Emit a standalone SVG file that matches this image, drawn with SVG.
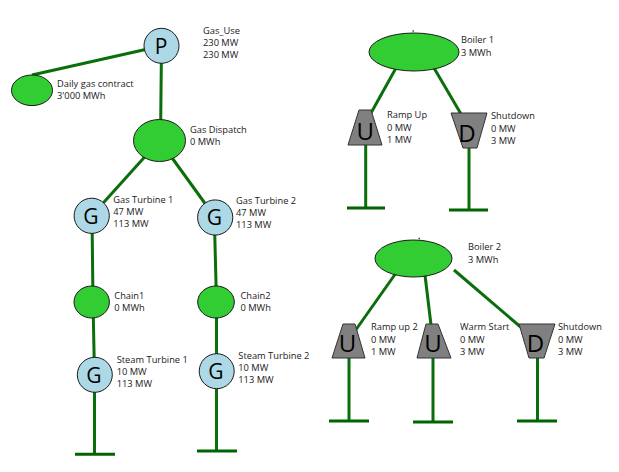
<svg xmlns="http://www.w3.org/2000/svg" width="619" height="472" viewBox="0 0 619 472">
<style>
.bg{fill:#ffffff}
.ln{stroke:#0a6e0a;stroke-width:3;fill:none;stroke-linecap:butt}
.bar{stroke:#006400;stroke-width:3;fill:none}
.ell{fill:#32cd32;stroke:#1a1a1a;stroke-width:1}
.gen{fill:#add8e6;stroke:#1a1a1a;stroke-width:1}
.trap{fill:#808080;stroke:#333333;stroke-width:1}
.lbl{font-family:"Open Sans","Noto Sans","Liberation Sans",sans-serif;font-size:9.3px;fill:#1a1a1a}
.sym{font-family:"Open Sans","Noto Sans","Liberation Sans",sans-serif;font-size:21px;fill:#000;text-anchor:middle}
.sym2{font-family:"Open Sans","Noto Sans","Liberation Sans",sans-serif;font-size:24px;fill:#000;text-anchor:middle}
</style>
<rect class="bg" x="0" y="0" width="619" height="472"/>
<g id="connectors">
<line class="ln" x1="161" y1="46" x2="32" y2="75"/>
<line class="ln" x1="161.5" y1="46" x2="160.5" y2="140"/>
<line class="ln" x1="159.5" y1="140.5" x2="91.7" y2="215.8"/>
<line class="ln" x1="159.5" y1="140.5" x2="215.2" y2="217.5"/>
<line class="ln" x1="92" y1="216" x2="93" y2="302"/>
<line class="ln" x1="214.3" y1="217" x2="216.5" y2="302"/>
<line class="ln" x1="93" y1="302" x2="94.5" y2="375"/>
<line class="ln" x1="216.5" y1="302" x2="216.5" y2="371"/>
<line class="ln" x1="94.5" y1="375" x2="94.5" y2="454"/>
<line class="bar" x1="75" y1="454.3" x2="115" y2="454.3"/>
<line class="ln" x1="216.5" y1="371" x2="216.5" y2="451"/>
<line class="bar" x1="197" y1="451" x2="237" y2="451"/>
<line class="ln" x1="396" y1="68" x2="371" y2="113"/>
<line class="ln" x1="434" y1="68" x2="461" y2="114"/>
<line class="ln" x1="365.7" y1="145" x2="365.7" y2="208"/>
<line class="bar" x1="347" y1="208" x2="385" y2="208"/>
<line class="ln" x1="469" y1="148" x2="469" y2="210"/>
<line class="bar" x1="449" y1="210" x2="488" y2="210"/>
<line class="ln" x1="396" y1="273" x2="355" y2="331"/>
<line class="ln" x1="425" y1="275" x2="431" y2="325"/>
<line class="ln" x1="454" y1="270" x2="523" y2="329"/>
<line class="ln" x1="349" y1="358" x2="349" y2="421"/>
<line class="bar" x1="329" y1="421" x2="369" y2="421"/>
<line class="ln" x1="433" y1="358" x2="433" y2="422"/>
<line class="bar" x1="413" y1="422" x2="453" y2="422"/>
<line class="ln" x1="537.5" y1="358" x2="537.5" y2="421"/>
<line class="bar" x1="517" y1="421" x2="557" y2="421"/>
<line class="ln" x1="412.5" y1="31" x2="414" y2="31" style="stroke-width:1.5"/>
<line class="ln" x1="418.5" y1="238.5" x2="420" y2="238.5" style="stroke-width:1.5"/>
</g>
<g id="gas_use">
<circle class="gen" cx="161.5" cy="45.8" r="17.5"/>
<text class="sym" x="161" y="53.5">P</text>
<text class="lbl" x="203" y="34">Gas_Use</text>
<text class="lbl" x="203" y="46">230 MW</text>
<text class="lbl" x="203" y="58">230 MW</text>
</g>
<g id="daily_gas_contract">
<ellipse class="ell" cx="32" cy="90.3" rx="20.5" ry="15.3"/>
<text class="lbl" x="57" y="86.5">Daily gas contract</text>
<text class="lbl" x="57" y="98.5">3'000 MWh</text>
</g>
<g id="gas_dispatch">
<ellipse class="ell" cx="159.5" cy="140.5" rx="26" ry="21"/>
<text class="lbl" x="190" y="133">Gas Dispatch</text>
<text class="lbl" x="190" y="145">0 MWh</text>
</g>
<g id="gas_turbine_1">
<circle class="gen" cx="91.7" cy="215.8" r="17.6"/>
<text class="sym" x="90.8" y="223.5">G</text>
<text class="lbl" x="113.3" y="202.5">Gas Turbine 1</text>
<text class="lbl" x="113.3" y="214.5">47 MW</text>
<text class="lbl" x="113.3" y="226.5">113 MW</text>
</g>
<g id="gas_turbine_2">
<circle class="gen" cx="215.2" cy="217.5" r="17.6"/>
<text class="sym" x="214.5" y="225.2">G</text>
<text class="lbl" x="236" y="204">Gas Turbine 2</text>
<text class="lbl" x="236" y="216">47 MW</text>
<text class="lbl" x="236" y="228">113 MW</text>
</g>
<g id="chain1">
<ellipse class="ell" cx="91.7" cy="302" rx="17.7" ry="16"/>
<text class="lbl" x="114.3" y="299">Chain1</text>
<text class="lbl" x="114.3" y="311">0 MWh</text>
</g>
<g id="chain2">
<ellipse class="ell" cx="216" cy="302" rx="18.3" ry="16"/>
<text class="lbl" x="240.5" y="299">Chain2</text>
<text class="lbl" x="240.5" y="311">0 MWh</text>
</g>
<g id="steam_turbine_1">
<circle class="gen" cx="94.8" cy="374.8" r="17.5"/>
<text class="sym" x="94" y="382.5">G</text>
<text class="lbl" x="116.7" y="362.5">Steam Turbine 1</text>
<text class="lbl" x="116.7" y="374.5">10 MW</text>
<text class="lbl" x="116.7" y="386.5">113 MW</text>
</g>
<g id="steam_turbine_2">
<circle class="gen" cx="216.7" cy="371.2" r="17.5"/>
<text class="sym" x="216" y="379">G</text>
<text class="lbl" x="238.3" y="359">Steam Turbine 2</text>
<text class="lbl" x="238.3" y="371">10 MW</text>
<text class="lbl" x="238.3" y="383">113 MW</text>
</g>
<g id="boiler_1">
<ellipse class="ell" cx="414" cy="52" rx="45" ry="19"/>
<text class="lbl" x="461" y="43">Boiler 1</text>
<text class="lbl" x="461" y="56">3 MWh</text>
</g>
<g id="ramp_up">
<polygon class="trap" points="359,110 371,110 382,145 348,145"/>
<text class="sym2" x="365.3" y="140">U</text>
<text class="lbl" x="387" y="118">Ramp Up</text>
<text class="lbl" x="387" y="130.5">0 MW</text>
<text class="lbl" x="387" y="142.5">1 MW</text>
</g>
<g id="shutdown_1">
<polygon class="trap" points="451,113 487,113 477,148 463,148"/>
<text class="sym2" x="467" y="141.7">D</text>
<text class="lbl" x="491" y="118.5">Shutdown</text>
<text class="lbl" x="491" y="131.5">0 MW</text>
<text class="lbl" x="491" y="143.5">3 MW</text>
</g>
<g id="boiler_2">
<ellipse class="ell" cx="413.5" cy="258.5" rx="38.5" ry="18.5"/>
<text class="lbl" x="468" y="250">Boiler 2</text>
<text class="lbl" x="468" y="263">3 MWh</text>
</g>
<g id="ramp_up_2">
<polygon class="trap" points="343,324 355,324 365,358 332,358"/>
<text class="sym2" x="347.5" y="352">U</text>
<text class="lbl" x="371" y="330">Ramp up 2</text>
<text class="lbl" x="371" y="342.5">0 MW</text>
<text class="lbl" x="371" y="355">1 MW</text>
</g>
<g id="warm_start">
<polygon class="trap" points="426,324 438,324 451,358 417,358"/>
<text class="sym2" x="433" y="352">U</text>
<text class="lbl" x="460" y="330">Warm Start</text>
<text class="lbl" x="460" y="342.5">0 MW</text>
<text class="lbl" x="460" y="355">3 MW</text>
</g>
<g id="shutdown_2">
<polygon class="trap" points="519,324 555,324 544,358 529,358"/>
<text class="sym2" x="535.5" y="352">D</text>
<text class="lbl" x="558" y="330">Shutdown</text>
<text class="lbl" x="558" y="342.5">0 MW</text>
<text class="lbl" x="558" y="355">3 MW</text>
</g>
</svg>
